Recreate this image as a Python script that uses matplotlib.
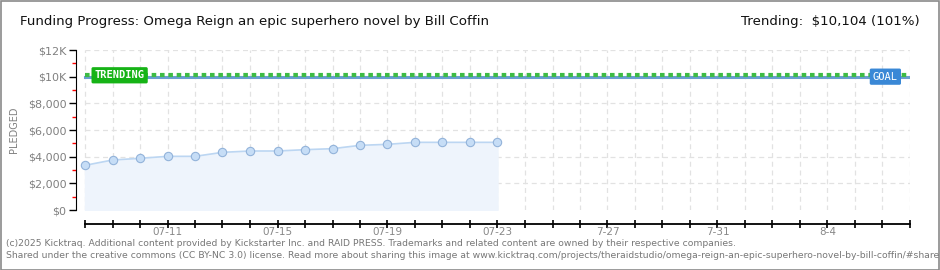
import numpy as np
import matplotlib.pyplot as plt
from matplotlib.patches import Rectangle

# data
days = ['07-08', '07-09', '07-10', '07-11', '07-12', '07-13', '07-14', '07-15',
        '07-16', '07-17', '07-18', '07-19', '07-20', '07-21', '07-22', '07-23']
pledged = [3350, 3750, 3875, 4025, 4025, 4325, 4425, 4425,
           4525, 4600, 4850, 4925, 5075, 5075, 5075, 5075]
goal = 10000
trending = 10104
n_days = 31  # 07-08 .. 08-07
tick_labels = {3: '07-11', 7: '07-15', 11: '07-19', 15: '07-23',
               19: '7-27', 23: '7-31', 27: '8-4'}
y_ticks = [0, 2000, 4000, 6000, 8000, 10000, 12000]
y_labels = ['$0', '$2,000', '$4,000', '$6,000', '$8,000', '$10K', '$12K']

W, H = 940, 270
fig = plt.figure(figsize=(W / 100, H / 100), dpi=100)
fig.patches.append(Rectangle((0.5 / W, 0.5 / H), 1 - 1.5 / W, 1 - 1.5 / H,
                             transform=fig.transFigure, fill=False,
                             edgecolor='#8a8a8a', lw=1.2))

ax = fig.add_axes([76 / W, 1 - 210 / H, (910 - 76) / W, 160 / H])
x = np.arange(len(pledged))
ax.set_xlim(-9 / 27.5, n_days - 1)
ax.set_ylim(0, 12000)

# grid
for d in range(n_days):
    ax.axvline(d, color='#e2e2e2', lw=0.9, ls=(0, (4, 3)), zorder=0)
for v in y_ticks[1:]:
    ax.plot([0, n_days - 1], [v, v], color='#e2e2e2', lw=0.9, ls=(0, (4, 3)), zorder=0)

# pledged series
ax.fill_between(x, pledged, 0, color='#eef4fc', zorder=1)
ax.plot(x, pledged, color='#bcd6f2', lw=1.2, zorder=2)
ax.scatter(x, pledged, s=36, facecolor='#c6ddf6', edgecolor='#93b3da', lw=0.8, zorder=3)

# goal and trending lines
ax.plot([0, n_days - 1 + 0.05], [goal, goal], color='#6a9fd0', lw=2.2, zorder=2)
ax.plot([0, n_days - 1 + 0.05], [trending, trending], color='#3dbb45', lw=3,
        ls=(0, (1.1, 0.9)), zorder=3)
ax.text(0.35, trending, 'TRENDING', color='white', fontsize=7.5, fontweight='bold',
        family='DejaVu Sans Mono', va='center', ha='left', zorder=5,
        bbox=dict(boxstyle='round,pad=0.3,rounding_size=0.15', fc='#16b316', ec='none'))
ax.text(28.65, goal, 'GOAL', color='white', fontsize=7.5,
        family='DejaVu Sans Mono', va='center', ha='left', zorder=5,
        bbox=dict(boxstyle='round,pad=0.3,rounding_size=0.15', fc='#3a88d6', ec='none'))

# spines
for s in ['top', 'right']:
    ax.spines[s].set_visible(False)
ax.spines['left'].set_color('black')
ax.spines['bottom'].set_position(('outward', 10))
ax.spines['bottom'].set_bounds(0, n_days - 1)
ax.spines['bottom'].set_linewidth(1.3)

ax.set_xticks(range(n_days))
ax.set_xticklabels([tick_labels.get(d, '') for d in range(n_days)])
ax.tick_params(axis='x', direction='inout', length=6, width=1.2, pad=-1,
               labelsize=7.5, labelcolor='#888888')

ax.set_yticks(y_ticks)
ax.set_yticklabels(y_labels)
ax.set_yticks([1000, 3000, 5000, 7000, 9000, 11000], minor=True)
ax.tick_params(axis='y', which='major', length=5, width=1, labelsize=8,
               labelcolor='#808080', pad=2)
ax.tick_params(axis='y', which='minor', length=3, width=1, color='red')
ax.set_ylabel('PLEDGED', fontsize=7, color='#808080', labelpad=6)

# header and footer
fig.text(20 / W, 1 - 22 / H, 'Funding Progress: Omega Reign an epic superhero novel by Bill Coffin',
         fontsize=9.6, family='Liberation Sans Narrow', va='center', ha='left', color='#111111')
fig.text(920 / W, 1 - 22 / H, 'Trending:  $10,104 (101%)',
         fontsize=9.6, family='Liberation Sans Narrow', va='center', ha='right', color='#111111')
fig.text(6 / W, 1 - 243 / H,
         '(c)2025 Kicktraq. Additional content provided by Kickstarter Inc. and RAID PRESS. '
         'Trademarks and related content are owned by their respective companies.',
         fontsize=6.7, family='Liberation Sans Narrow', va='center', ha='left', color='#777777')
fig.text(6 / W, 1 - 256 / H,
         'Shared under the creative commons (CC BY-NC 3.0) license. Read more about sharing this image at '
         'www.kicktraq.com/projects/theraidstudio/omega-reign-an-epic-superhero-novel-by-bill-coffin/#share',
         fontsize=6.7, family='Liberation Sans Narrow', va='center', ha='left', color='#777777')

fig.savefig('out.png', dpi=100)
